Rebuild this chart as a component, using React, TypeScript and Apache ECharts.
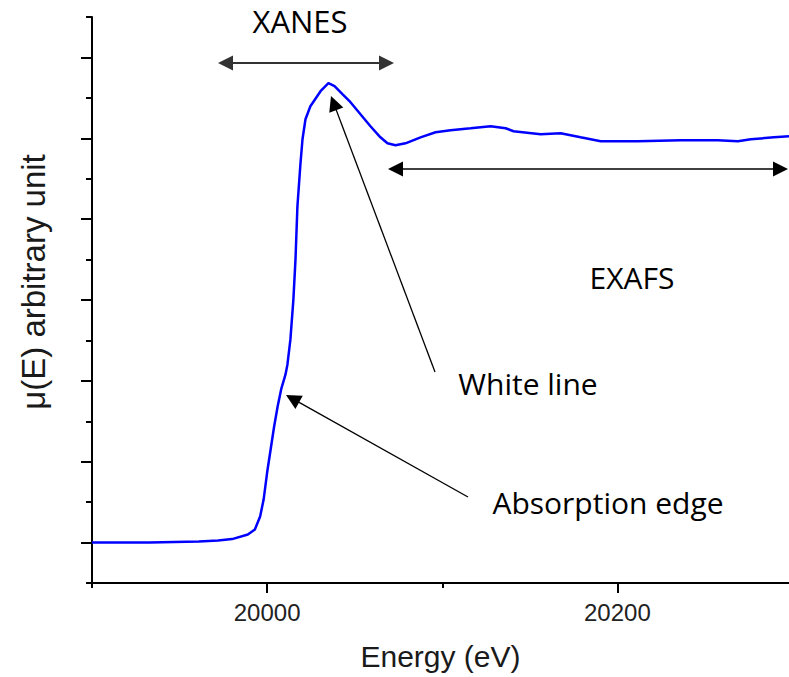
import React, { useEffect, useRef } from "react";
import * as echarts from "echarts";

// Energy (eV) and absorption μ(E)
const energy = [19900, 19933, 19961, 19972, 19980, 19989, 19993, 19996, 19998, 20000, 20002, 20004, 20006, 20008, 20010.5, 20011.6, 20013.3, 20015, 20016.2, 20017.3, 20019, 20020.2, 20021.9, 20024.7, 20030.5, 20035, 20038.5, 20043, 20047.6, 20053.3, 20059, 20064.7, 20068.7, 20073.3, 20079, 20087.6, 20096.2, 20104.7, 20116.2, 20127.6, 20136.2, 20140.7, 20156.2, 20167.6, 20179, 20190.5, 20211.6, 20236.2, 20257.3, 20268.8, 20276.2, 20289.4, 20298];
const mu = [0, 0, 0.012, 0.025, 0.043, 0.099, 0.161, 0.322, 0.532, 0.866, 1.151, 1.436, 1.683, 1.894, 2.079, 2.203, 2.512, 3.007, 3.502, 4.158, 4.678, 4.988, 5.235, 5.396, 5.582, 5.681, 5.644, 5.545, 5.446, 5.297, 5.149, 5.012, 4.938, 4.913, 4.938, 5.012, 5.074, 5.099, 5.124, 5.149, 5.124, 5.087, 5.05, 5.062, 5.012, 4.963, 4.963, 4.975, 4.975, 4.963, 4.988, 5.012, 5.025];

const xMajorTicks = [20000, 20200];
const xMinorTicks = [19900, 20100];
const yMajorTicks = [0, 1, 2, 3, 4, 5, 6];
const yMinorTicks = [-0.5, 0.5, 1.5, 2.5, 3.5, 4.5, 5.5, 6.5];

const xTitle = "Energy (eV)";
const yTitle = "μ(E) arbitrary unit";

function arrowHead(tx: number, ty: number, fx: number, fy: number, len: number, half: number, color: string) {
  const dx = tx - fx;
  const dy = ty - fy;
  const d = Math.sqrt(dx * dx + dy * dy);
  const ux = dx / d;
  const uy = dy / d;
  const bx = tx - ux * len;
  const by = ty - uy * len;
  return {
    type: "polygon",
    shape: { points: [[tx, ty], [bx - uy * half, by + ux * half], [bx + uy * half, by - ux * half]] },
    style: { fill: color },
    silent: true,
  };
}

function arrow(x1: number, y1: number, x2: number, y2: number, both: boolean, color: string, width: number) {
  const len = 15;
  const half = 7.5;
  const dx = x2 - x1;
  const dy = y2 - y1;
  const d = Math.sqrt(dx * dx + dy * dy);
  const ux = dx / d;
  const uy = dy / d;
  const sx = both ? x1 + ux * (len - 2) : x1;
  const sy = both ? y1 + uy * (len - 2) : y1;
  const ex = x2 - ux * (len - 2);
  const ey = y2 - uy * (len - 2);
  const els: any[] = [
    { type: "line", shape: { x1: sx, y1: sy, x2: ex, y2: ey }, style: { stroke: color, lineWidth: width }, silent: true },
    arrowHead(x2, y2, x1, y1, len, half, color),
  ];
  if (both) els.push(arrowHead(x1, y1, x2, y2, len, half, color));
  return els;
}

const annoFont = "'Open Sans', 'Noto Sans', sans-serif";
const axisFont = "'Liberation Sans', Arial, sans-serif";

export default function App() {
  const ref = useRef<HTMLDivElement>(null);
  useEffect(() => {
    if (!ref.current) return;
    const chart = echarts.init(ref.current, null, { renderer: "svg" });
    const data = energy.map((e, i) => [e, mu[i]]);
    const axisLineStyle = { color: "#000", width: 2 };
    const graphics: any[] = [
      ...arrow(218, 63, 394, 63, true, "#333", 2),
      ...arrow(388, 169, 788, 169, true, "#000", 1.5),
      ...arrow(435, 372, 331, 96, false, "#000", 1.3),
      ...arrow(468, 497, 286, 395, false, "#000", 1.3),
      { type: "text", x: 300, y: 21, style: { text: "XANES", font: `31px ${annoFont}`, fill: "#000", align: "center", verticalAlign: "middle" }, silent: true },
      { type: "text", x: 632, y: 277, style: { text: "EXAFS", font: `30px ${annoFont}`, fill: "#000", align: "center", verticalAlign: "middle" }, silent: true },
      { type: "text", x: 528, y: 383, style: { text: "White line", font: `30px ${annoFont}`, fill: "#000", align: "center", verticalAlign: "middle" }, silent: true },
      { type: "text", x: 608, y: 502, style: { text: "Absorption edge", font: `30px ${annoFont}`, fill: "#000", align: "center", verticalAlign: "middle" }, silent: true },
      { type: "text", x: 33, y: 282, rotation: Math.PI / 2, style: { text: yTitle, font: `33px ${axisFont}`, fill: "#1a1a1a", align: "center", verticalAlign: "middle" }, silent: true },
    ];
    chart.setOption({
      animation: false,
      backgroundColor: "#fff",
      grid: { left: 92, right: 0, top: 17, bottom: 94, containLabel: false },
      xAxis: [
        {
          type: "value",
          min: 19900,
          max: 20298,
          position: "bottom",
          name: xTitle,
          nameLocation: "middle",
          nameGap: 73,
          nameTextStyle: { fontFamily: axisFont, fontSize: 30, color: "#1a1a1a", verticalAlign: "middle" },
          axisLine: { show: true, onZero: false, lineStyle: axisLineStyle },
          axisTick: { show: true, length: 10, lineStyle: { color: "#000", width: 2 }, customValues: xMajorTicks },
          axisLabel: { show: true, customValues: xMajorTicks, formatter: (v: number) => String(v), margin: 29, verticalAlign: "middle", fontFamily: axisFont, fontSize: 24, color: "#222" },
          splitLine: { show: false },
        },
        {
          type: "value",
          min: 19900,
          max: 20298,
          position: "bottom",
          offset: 0,
          axisLine: { show: false, onZero: false },
          axisTick: { show: true, length: 5, lineStyle: { color: "#000", width: 2 }, customValues: xMinorTicks },
          axisLabel: { show: false },
          splitLine: { show: false },
        },
      ],
      yAxis: [
        {
          type: "value",
          min: -0.5,
          max: 6.5,
          position: "left",
          axisLine: { show: true, onZero: false, lineStyle: axisLineStyle },
          axisTick: { show: true, length: 11, lineStyle: { color: "#000", width: 2 }, customValues: yMajorTicks },
          axisLabel: { show: false },
          splitLine: { show: false },
        },
        {
          type: "value",
          min: -0.5,
          max: 6.5,
          position: "left",
          offset: 0,
          axisLine: { show: false, onZero: false },
          axisTick: { show: true, length: 6, lineStyle: { color: "#000", width: 2 }, customValues: yMinorTicks },
          axisLabel: { show: false },
          splitLine: { show: false },
        },
      ],
      series: [
        {
          type: "line",
          data,
          showSymbol: false,
          symbol: "none",
          smooth: false,
          lineStyle: { color: "#0000ff", width: 2.5 },
          z: 3,
        },
      ],
      graphic: { elements: graphics },
    });
    return () => chart.dispose();
  }, []);
  return <div ref={ref} style={{ position: "absolute", left: 0, top: 0, width: 789, height: 677 }} />;
}
